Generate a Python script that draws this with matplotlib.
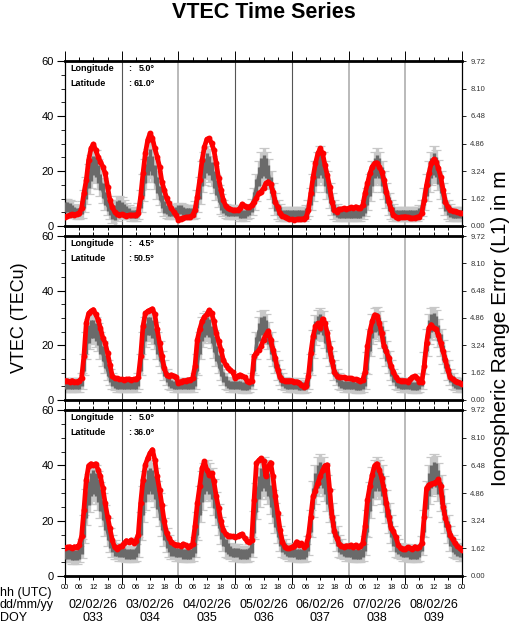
import numpy as np
import matplotlib.pyplot as plt
from matplotlib.ticker import MultipleLocator, FixedLocator

plt.rcParams['font.family'] = ['Liberation Sans', 'DejaVu Sans']

# hours since 02/02/26 00 UT
hours = np.arange(169)
dates = ['02/02/26', '03/02/26', '04/02/26', '05/02/26', '06/02/26', '07/02/26', '08/02/26']
doys = ['033', '034', '035', '036', '037', '038', '039']
hour_labels = ['00', '06', '12', '18'] * 7 + ['00']
day_line_colors = ['#555555', '#b4b4b4', '#555555', '#555555', '#b4b4b4', '#b4b4b4']
range_ticks = [0.00, 1.62, 3.24, 4.86, 6.48, 8.10, 9.72]

lons = ['5.0', '4.5', '5.0']
lats = ['61.0', '50.5', '36.0']

# measured VTEC (red)
red1 = [3.4, 3.6, 4.0, 4.2, 4.1, 4.4, 4.6, 6.4, 11.9, 16.7, 24.0, 28.2, 29.8, 27.6, 25.2, 23.4, 21.6, 19.1, 14.3, 9.5, 6.8, 5.2, 4.4, 4.0,
        4.2, 4.0, 3.8, 3.9, 4.0, 4.0, 3.9, 4.6, 10.7, 19.1, 26.4, 31.3, 33.7, 31.9, 28.2, 25.2, 21.6, 16.1, 13.1, 10.1, 8.2, 6.4, 5.2, 4.0,
        2.2, 2.7, 3.0, 3.2, 3.2, 3.4, 4.0, 5.8, 10.7, 16.7, 24.0, 28.8, 31.5, 31.9, 30.1, 27.6, 22.8, 17.3, 13.1, 9.5, 7.3, 6.4, 6.1, 5.8,
        5.8, 5.8, 6.4, 8.0, 7.3, 6.8, 7.0, 7.6, 8.8, 10.1, 11.9, 12.5, 13.7, 15.5, 16.1, 15.3, 12.5, 8.8, 6.8, 4.6, 3.8, 3.4, 3.0, 2.4,
        2.4, 2.2, 2.4, 2.5, 2.4, 2.7, 3.2, 5.8, 11.9, 17.9, 22.8, 26.4, 28.2, 26.4, 22.2, 18.5, 14.3, 8.8, 5.8, 5.2, 6.1, 6.1, 6.4, 6.2,
        6.4, 6.8, 6.4, 7.0, 6.7, 6.4, 7.6, 11.9, 15.5, 19.1, 21.6, 22.8, 23.0, 21.6, 19.8, 16.7, 12.5, 8.8, 6.1, 4.0, 3.4, 3.0, 3.2, 3.2,
        3.4, 3.2, 3.0, 2.8, 3.0, 3.2, 3.4, 4.6, 9.5, 14.9, 19.1, 22.8, 24.2, 23.4, 21.0, 17.9, 13.1, 8.8, 6.8, 5.8, 5.6, 5.3, 5.1, 4.8,
        4.6]
red2 = [7.1, 7.0, 6.7, 7.1, 6.7, 6.7, 7.0, 8.0, 16.0, 28.2, 31.7, 32.5, 33.1, 31.3, 29.4, 26.4, 22.7, 20.9, 17.2, 12.9, 8.8, 8.0, 7.9, 7.6,
        7.6, 7.4, 7.6, 7.7, 7.4, 7.6, 7.6, 8.3, 16.0, 27.0, 31.7, 32.5, 32.9, 33.4, 31.3, 25.8, 20.9, 16.0, 11.7, 9.2, 8.8, 9.2, 8.8, 8.3,
        6.1, 6.7, 7.1, 7.1, 7.4, 7.4, 8.0, 12.3, 22.1, 25.8, 28.8, 30.4, 31.3, 32.9, 31.9, 28.8, 24.5, 21.5, 18.4, 14.7, 12.9, 11.7, 11.0, 10.1,
        8.0, 8.8, 9.2, 8.8, 8.3, 7.1, 6.7, 7.1, 16.0, 17.2, 18.2, 19.6, 22.1, 23.9, 25.2, 22.1, 18.4, 15.3, 11.0, 8.3, 7.4, 7.1, 7.1, 7.1,
        7.1, 6.7, 6.7, 6.4, 5.5, 4.9, 5.2, 8.6, 17.2, 23.3, 27.0, 28.0, 26.4, 29.7, 28.2, 24.5, 19.0, 14.1, 10.4, 8.8, 8.3, 8.3, 8.3, 8.0,
        8.0, 7.9, 7.6, 7.6, 7.4, 7.1, 7.4, 10.4, 19.6, 25.2, 28.8, 31.2, 30.7, 28.2, 24.5, 19.6, 17.8, 15.3, 12.3, 10.4, 8.3, 7.4, 7.1, 7.1,
        7.1, 6.7, 7.6, 8.3, 8.8, 8.0, 6.7, 6.7, 12.3, 20.9, 26.4, 27.6, 26.4, 26.0, 23.9, 20.9, 17.8, 14.7, 11.0, 8.3, 7.6, 7.1, 6.7, 6.4,
        5.9]
red3 = [10.0, 10.4, 10.6, 10.0, 10.6, 10.4, 11.2, 14.3, 23.9, 34.8, 39.9, 40.6, 40.2, 40.6, 38.4, 36.0, 31.8, 26.3, 21.5, 17.3, 13.0, 10.4, 9.7, 10.6,
        10.9, 11.8, 12.8, 12.4, 13.0, 12.1, 12.8, 14.9, 26.3, 34.8, 40.2, 42.6, 44.5, 45.7, 42.0, 36.0, 31.2, 25.7, 19.7, 15.5, 13.7, 12.4, 11.6, 11.2,
        11.2, 10.9, 11.6, 11.2, 10.6, 10.9, 11.6, 17.9, 26.3, 32.4, 39.0, 41.4, 38.4, 36.6, 37.2, 34.2, 28.8, 24.5, 19.7, 16.7, 15.2, 14.5, 14.5, 14.3,
        14.0, 14.3, 14.9, 15.2, 13.7, 12.8, 12.4, 13.0, 27.5, 40.8, 41.8, 42.6, 41.4, 36.0, 39.6, 41.0, 36.0, 28.8, 22.7, 16.7, 12.4, 10.6, 10.0, 10.0,
        10.4, 10.9, 12.4, 11.2, 11.8, 10.6, 11.2, 14.3, 21.5, 28.8, 30.9, 33.6, 36.0, 38.2, 39.9, 40.2, 31.2, 21.5, 16.1, 13.7, 11.6, 10.9, 10.6, 10.9,
        10.9, 11.2, 10.6, 11.2, 10.4, 10.9, 11.8, 17.9, 27.5, 32.4, 36.6, 39.9, 40.6, 38.4, 35.4, 31.2, 26.3, 21.5, 17.3, 16.1, 14.0, 11.2, 10.0, 9.7,
        9.7, 10.4, 10.0, 9.7, 10.6, 10.0, 10.4, 11.8, 21.5, 31.8, 33.0, 33.3, 33.6, 33.8, 35.0, 32.4, 25.1, 20.9, 17.9, 14.9, 13.3, 11.8, 10.9, 10.0,
        9.4]

# reference VTEC (gray) and its spread
gray1 = [7, 7, 6.5, 6, 5.5, 5, 5, 6, 9, 13, 17, 20, 22, 21.5, 19, 16, 13, 10, 7.5, 6, 5, 5, 6.5, 7,
         6.5, 6, 5.5, 5, 4.5, 4.5, 4.5, 5.5, 9, 14, 19, 22, 24, 22, 19, 15, 12, 9, 7, 6, 5, 5, 5, 5.5,
         6, 6, 5.5, 5, 5, 5, 5, 6, 9, 13, 18, 21, 23, 22, 20, 17, 14, 11, 8, 6.5, 5.5, 5, 5, 5,
         5, 5, 4.5, 4.5, 4.5, 5, 5.5, 7, 10, 14, 18, 21, 22, 21, 19, 15, 11, 8, 6, 5, 4.5, 4.5, 4.5, 4.5,
         4.5, 4.5, 4.5, 4.5, 4.5, 4.5, 5, 6.5, 10, 14, 18, 21, 22.5, 21, 18, 15, 11, 8, 6, 5, 4.5, 4.5, 4.5, 4.5,
         4.5, 4.5, 4.5, 4.5, 4.5, 4.5, 5, 6.5, 10, 14, 18, 21, 22, 21, 18, 15, 11, 8, 6, 5, 4.5, 4.5, 4.5, 4.5,
         4.5, 4.5, 4.5, 4.5, 4.5, 4.5, 5, 6.5, 10, 14, 18, 21, 22.5, 21.5, 18.5, 15, 11, 8, 6, 5, 4.5, 4.5, 4.5, 4.5,
         4.5]
err1 = [3, 3, 3, 3, 2.5, 2.5, 2.5, 3, 4, 5, 5.5, 6, 6, 6, 5.5, 5, 4.5, 4, 3.5, 3.5, 4, 4.5, 4.5, 4,
        4, 3.5, 3, 2.5, 2.5, 2.5, 2.5, 3, 4, 5, 5.5, 6, 6.5, 6, 5.5, 5, 4.5, 4, 3.5, 3, 2.5, 2.5, 2.5, 2.5,
        2.5, 2.5, 2.5, 2.5, 2.5, 2.5, 2.5, 3, 4, 5, 5.5, 6, 6, 6, 5.5, 5, 4.5, 4, 3.5, 3, 2.5, 2.5, 2.5, 2.5,
        2.5, 2.5, 2.5, 2.5, 2.5, 2.5, 2.5, 3, 4, 5, 5.5, 6, 6.5, 6, 5.5, 5, 4.5, 4, 3.5, 3, 2.5, 2.5, 2.5, 2.5,
        2.5, 2.5, 2.5, 2.5, 2.5, 2.5, 2.5, 3, 4, 5, 5.5, 6, 6.5, 6, 5.5, 5, 4.5, 4, 3.5, 3, 2.5, 2.5, 2.5, 2.5,
        2.5, 2.5, 2.5, 2.5, 2.5, 2.5, 2.5, 3, 4, 5, 5.5, 6, 6.5, 6, 5.5, 5, 4.5, 4, 3.5, 3, 2.5, 2.5, 2.5, 2.5,
        2.5, 2.5, 2.5, 2.5, 2.5, 2.5, 2.5, 3, 4, 5, 5.5, 6, 6.5, 6, 5.5, 5, 4.5, 4, 3.5, 3, 2.5, 2.5, 2.5, 2.5,
        2.5]
gray2 = [5.5, 5.5, 5.5, 5.5, 5.5, 5.5, 5.5, 7, 13, 20, 24, 26, 26, 25, 23, 20, 17, 14, 11, 8.5, 7, 6, 5.5, 5.5,
         5.5, 5.5, 5.5, 5.5, 5.5, 5.5, 5.5, 7, 13, 20, 25, 27, 27, 26, 23.5, 20, 17, 14, 11, 8.5, 7, 6, 5.5, 5.5,
         5.5, 5.5, 5.5, 5.5, 5.5, 5.5, 5.5, 7, 13, 20, 25, 26.5, 27, 26.5, 24, 20.5, 17, 14, 11, 8.5, 7, 6, 5.5, 5.5,
         5.5, 5.5, 5.5, 5, 5, 5, 5.5, 7, 13, 20, 25, 27, 27.5, 26, 23.5, 20, 17, 14, 11, 8.5, 7, 6, 5.5, 5.5,
         5.5, 5.5, 5.5, 5, 5, 5, 5.5, 7, 13, 20.5, 25.5, 27.5, 28, 27, 24, 20.5, 17, 14, 11, 8.5, 7, 6, 5.5, 5.5,
         5.5, 5.5, 5.5, 5, 5, 5, 5.5, 7, 13.5, 21, 26, 28, 28.5, 27, 24, 20.5, 17, 14, 11, 8.5, 7, 6, 5.5, 5.5,
         5.5, 5.5, 5.5, 5, 5, 5, 5.5, 7, 13.5, 21, 26, 28, 28.5, 27.5, 24.5, 21, 17.5, 14, 11, 8.5, 7, 6, 5.5, 5.5,
         5.5]
err2 = [2.5, 2.5, 2.5, 2.5, 2.5, 2.5, 2.5, 3, 4, 5, 5.5, 5.5, 5.5, 5.5, 5, 5, 4.5, 4, 3.5, 3, 3, 2.5, 2.5, 2.5,
        2.5, 2.5, 2.5, 2.5, 2.5, 2.5, 2.5, 3, 4, 5, 5.5, 5.5, 5.5, 5.5, 5, 5, 4.5, 4, 3.5, 3, 3, 2.5, 2.5, 2.5,
        2.5, 2.5, 2.5, 2.5, 2.5, 2.5, 2.5, 3, 4, 5, 5.5, 5.5, 5.5, 5.5, 5, 5, 4.5, 4, 3.5, 3, 3, 2.5, 2.5, 2.5,
        2.5, 2.5, 2.5, 2.5, 2.5, 2.5, 2.5, 3, 4, 5, 5.5, 5.5, 5.5, 5.5, 5, 5, 4.5, 4, 3.5, 3, 3, 2.5, 2.5, 2.5,
        2.5, 2.5, 2.5, 2.5, 2.5, 2.5, 2.5, 3, 4, 5, 5.5, 5.5, 5.5, 5.5, 5, 5, 4.5, 4, 3.5, 3, 3, 2.5, 2.5, 2.5,
        2.5, 2.5, 2.5, 2.5, 2.5, 2.5, 2.5, 3, 4, 5, 5.5, 5.5, 5.5, 5.5, 5, 5, 4.5, 4, 3.5, 3, 3, 2.5, 2.5, 2.5,
        2.5, 2.5, 2.5, 2.5, 2.5, 2.5, 2.5, 3, 4, 5, 5.5, 5.5, 5.5, 5.5, 5, 5, 4.5, 4, 3.5, 3, 3, 2.5, 2.5, 2.5,
        2.5]
gray3 = [8, 8, 8, 7.5, 7.5, 7.5, 8, 10, 17, 25, 30, 33, 34, 33, 31, 27.5, 24, 20, 16, 13, 11, 9.5, 9, 8.5,
         8.5, 8.5, 8, 8, 8, 8, 8.5, 10.5, 18, 26, 31, 34, 35, 34, 32, 28, 24, 20, 16, 13, 11, 9.5, 9, 8.5,
         8.5, 8.5, 8, 8, 8, 8, 8.5, 10.5, 18, 26, 31, 34, 35, 34, 32, 28.5, 24.5, 20.5, 16.5, 13.5, 11, 10, 9, 8.5,
         8.5, 8.5, 8, 8, 8, 8, 8.5, 10.5, 18.5, 27, 32, 35, 36, 35, 33, 29, 25, 21, 17, 13.5, 11, 10, 9, 8.5,
         8.5, 8.5, 8, 8, 8, 8, 8.5, 11, 19, 28, 33, 36, 37, 36, 34, 30, 25.5, 21, 17, 13.5, 11, 10, 9, 8.5,
         8.5, 8.5, 8, 8, 8, 8, 8.5, 11, 19, 27.5, 32.5, 35, 36, 35, 33, 29.5, 25, 21, 17, 13.5, 11, 10, 9, 8.5,
         8.5, 8.5, 8, 8, 8, 8, 8.5, 11, 19, 28, 33, 36, 37, 36.5, 34, 30, 25.5, 21, 17, 13.5, 11, 10, 9, 8.5,
         8.5]
err3 = [3, 3, 3, 3, 3, 3, 3, 3.5, 5, 6.5, 7, 7, 7, 7, 7, 6.5, 6, 5.5, 5, 4.5, 4, 3.5, 3, 3,
        3, 3, 3, 3, 3, 3, 3, 3.5, 5, 6.5, 7, 7, 7, 7, 7, 6.5, 6, 5.5, 5, 4.5, 4, 3.5, 3, 3,
        3, 3, 3, 3, 3, 3, 3, 3.5, 5, 6.5, 7, 7, 7, 7, 7, 6.5, 6, 5.5, 5, 4.5, 4, 3.5, 3, 3,
        3, 3, 3, 3, 3, 3, 3, 3.5, 5, 6.5, 7, 7, 7, 7, 7, 6.5, 6, 5.5, 5, 4.5, 4, 3.5, 3, 3,
        3, 3, 3, 3, 3, 3, 3, 3.5, 5, 6.5, 7, 7, 7, 7, 7, 6.5, 6, 5.5, 5, 4.5, 4, 3.5, 3, 3,
        3, 3, 3, 3, 3, 3, 3, 3.5, 5, 6.5, 7, 7, 7, 7, 7, 6.5, 6, 5.5, 5, 4.5, 4, 3.5, 3, 3,
        3, 3, 3, 3, 3, 3, 3, 3.5, 5, 6.5, 7, 7, 7, 7, 7, 6.5, 6, 5.5, 5, 4.5, 4, 3.5, 3, 3,
        3]

reds = [red1, red2, red3]
grays = [gray1, gray2, gray3]
errs = [err1, err2, err3]

W, H = 522, 623
fig = plt.figure(figsize=(W / 100, H / 100), dpi=100)

# panel boxes in pixels: (top, bottom)
boxes = [(61, 226), (236, 400), (410, 576)]
left_px, right_px = 65, 462

axes = []
for i, (top, bot) in enumerate(boxes):
    ax = fig.add_axes([left_px / W, 1 - bot / H, (right_px - left_px) / W, (bot - top) / H])
    axes.append(ax)

    g = np.array(grays[i])
    e = np.array(errs[i])
    ax.errorbar(hours, g, yerr=e, fmt='none', ecolor='#c8c8c8', elinewidth=2.4,
                capsize=3.6, capthick=0.9, zorder=2)
    ax.errorbar(hours, g, yerr=e * 0.6, fmt='none', ecolor='#6a6a6a', elinewidth=2.4, zorder=3)
    ax.plot(hours, g, color='#6a6a6a', lw=2.4, zorder=3)

    for k, c in enumerate(day_line_colors):
        ax.axvline(24 * (k + 1), color=c, lw=1.3 if c == '#b4b4b4' else 0.8, zorder=1.5)

    ax.plot(hours, reds[i], color='#ff0000', lw=3.4, marker='o', ms=3.2, zorder=5)

    ax.set_xlim(0, 168)
    ax.set_ylim(0, 60)
    ax.yaxis.set_major_locator(FixedLocator([0, 20, 40, 60]))
    ax.yaxis.set_minor_locator(MultipleLocator(5))
    ax.tick_params(axis='y', which='major', direction='out', length=6, width=0.8, labelsize=8, pad=2)
    ax.tick_params(axis='y', which='minor', direction='out', length=3, width=0.6)

    ax.xaxis.set_major_locator(MultipleLocator(24))
    ax.xaxis.set_minor_locator(MultipleLocator(6))
    ax.tick_params(axis='x', which='both', top=True, bottom=True, direction='out', width=0.7)
    ax.tick_params(axis='x', which='major', length=7)
    ax.tick_params(axis='x', which='minor', length=3)
    ax.set_xticklabels([])

    for side in ['top', 'bottom']:
        ax.spines[side].set_linewidth(2.0)
    for side in ['left', 'right']:
        ax.spines[side].set_linewidth(0.9)

    ax2 = ax.twinx()
    ax2.set_ylim(0, 9.72)
    ax2.set_yticks(range_ticks)
    ax2.set_yticklabels(['%.2f' % v for v in range_ticks])
    ax2.tick_params(axis='y', direction='out', length=3, width=0.6, labelsize=5.5,
                    labelcolor='#333333', pad=3)
    for s in ax2.spines.values():
        s.set_visible(False)

    ax.text(0.013, 0.952, 'Longitude', transform=ax.transAxes, fontsize=6.5,
            fontweight='bold', va='center', ha='left', zorder=6)
    ax.text(0.013, 0.865, 'Latitude', transform=ax.transAxes, fontsize=6.5,
            fontweight='bold', va='center', ha='left', zorder=6)
    ax.text(0.158, 0.952, ':', transform=ax.transAxes, fontsize=6.5,
            fontweight='bold', va='center', ha='left', zorder=6)
    ax.text(0.158, 0.865, ':', transform=ax.transAxes, fontsize=6.5,
            fontweight='bold', va='center', ha='left', zorder=6)
    ax.text(0.227, 0.952, lons[i] + '\u00b0', transform=ax.transAxes, fontsize=6.5,
            fontweight='bold', va='center', ha='right', zorder=6)
    ax.text(0.227, 0.865, lats[i] + '\u00b0', transform=ax.transAxes, fontsize=6.5,
            fontweight='bold', va='center', ha='right', zorder=6)

# hour labels on bottom panel
ax = axes[-1]
ax.xaxis.set_major_locator(MultipleLocator(6))
ax.xaxis.set_minor_locator(MultipleLocator(24))
ax.xaxis.remove_overlapping_locs = False
ax.tick_params(axis='x', which='major', length=3, labelsize=5.3, pad=3)
ax.tick_params(axis='x', which='minor', length=6)
ax.set_xticks(range(0, 169, 6))
ax.set_xticklabels(hour_labels)

for k in range(7):
    ax.text(12 + 24 * k, -0.175, dates[k], transform=ax.get_xaxis_transform(),
            ha='center', va='center', fontsize=9)
    ax.text(12 + 24 * k, -0.255, doys[k], transform=ax.get_xaxis_transform(),
            ha='center', va='center', fontsize=9)

fig.text(0.0, 1 - 593 / H, 'hh (UTC)', fontsize=9, va='center', ha='left')
fig.text(0.0, 1 - 605 / H, 'dd/mm/yy', fontsize=9, va='center', ha='left')
fig.text(0.0, 1 - 618 / H, 'DOY', fontsize=9, va='center', ha='left')

fig.text(264 / W, 1 - 12 / H, 'VTEC Time Series', fontsize=15.5, fontweight='bold',
         ha='center', va='center')
fig.text(20 / W, 1 - 318 / H, 'VTEC (TECu)', fontsize=13, rotation=90,
         ha='center', va='center')
fig.text(500 / W, 1 - 328 / H, 'Ionospheric Range Error (L1) in m', fontsize=15,
         rotation=90, ha='center', va='center')

fig.savefig('out.png', dpi=100)
